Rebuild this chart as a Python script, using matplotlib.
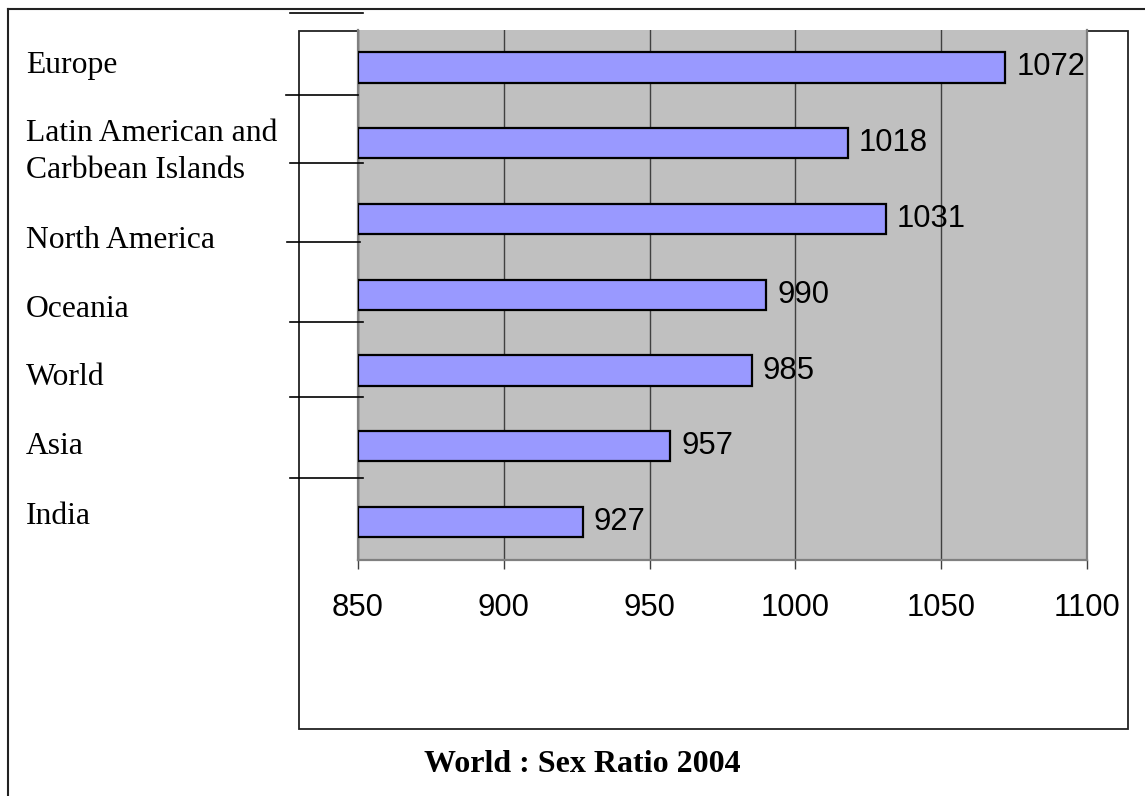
import matplotlib
matplotlib.use("Agg")
import matplotlib.pyplot as plt
from matplotlib.lines import Line2D
from matplotlib.patches import Rectangle

# ---- data ----
categories = ["Europe", "Latin American and\nCarbbean Islands", "North America",
              "Oceania", "World", "Asia", "India"]
values = [1072, 1018, 1031, 990, 985, 957, 927]
x_ticks = [850, 900, 950, 1000, 1050, 1100]
title = "World : Sex Ratio 2004"

# ---- layout (pixels) ----
W, H = 1145, 796
def fx(x): return x / W
def fy(y): return 1 - y / H

fig = plt.figure(figsize=(W / 100, H / 100), dpi=100)
fig.patch.set_facecolor("white")

ax = fig.add_axes([fx(358), fy(560), (1087 - 358) / W, (560 - 29.5) / H])
ax.set_facecolor("#C0C0C0")

n = len(categories)
ypos = list(range(n))
base = x_ticks[0]
ax.barh(ypos, [v - base for v in values], left=base, height=0.4,
        color="#9999FF", edgecolor="black", linewidth=1.6, zorder=3)
for y, v in zip(ypos, values):
    ax.annotate(str(v), xy=(v, y), xytext=(8, 0), textcoords="offset points",
                va="center", ha="left", fontsize=22.3,
                family="Liberation Sans", color="black", zorder=4)

ax.set_xlim(x_ticks[0], x_ticks[-1])
ax.set_ylim(n - 0.5, -0.5)
ax.set_yticks([])
ax.set_xticks(x_ticks)
ax.set_xticklabels([str(t) for t in x_ticks], family="Liberation Sans", fontsize=22.3)
ax.tick_params(axis="x", direction="out", length=6.5, width=1, color="#404040", pad=17)
ax.grid(axis="x", color="#404040", linewidth=1, zorder=1)
ax.set_axisbelow(True)
for s in ["left", "right", "bottom"]:
    ax.spines[s].set_color("#808080")
    ax.spines[s].set_linewidth(1.6)
ax.spines["top"].set_visible(False)

# ---- figure decorations ----
def fline(x0, y0, x1, y1, lw=1.2, color="black"):
    fig.add_artist(Line2D([fx(x0), fx(x1)], [fy(y0), fy(y1)], color=color,
                          linewidth=lw, transform=fig.transFigure))

# outer frame (left and top edges)
fline(7.5, 9, 7.5, 796, lw=1.5, color="#222222")
fline(7.5, 9, 1145, 9, lw=1.5, color="#222222")
# inner chart box
fig.add_artist(Rectangle((fx(299), fy(729)), (1128 - 299) / W, (729 - 31) / H,
                         fill=False, edgecolor="#222222", linewidth=1.3,
                         transform=fig.transFigure, zorder=0))
# separator lines at left
for (x0, x1, y) in [(290, 363, 12.5), (286, 358, 95), (290, 363, 163),
                    (287, 360, 242), (290, 363, 322), (290, 363, 397),
                    (290, 363, 478)]:
    fline(x0, y, x1, y, lw=1.2)

# category labels (left table)
label_baselines = [[73], [141, 178], [248], [317], [385], [454], [524]]
for cat, bls in zip(categories, label_baselines):
    for line, bl in zip(cat.split("\n"), bls):
        fig.text(fx(26), fy(bl), line, ha="left", va="baseline",
                 family="Liberation Serif", fontsize=22.8, color="black")

fig.text(fx(582), fy(772), title, ha="center", va="baseline",
         family="Liberation Serif", fontweight="bold", fontsize=23, color="black")

fig.savefig("out.png", dpi=100, facecolor="white")
